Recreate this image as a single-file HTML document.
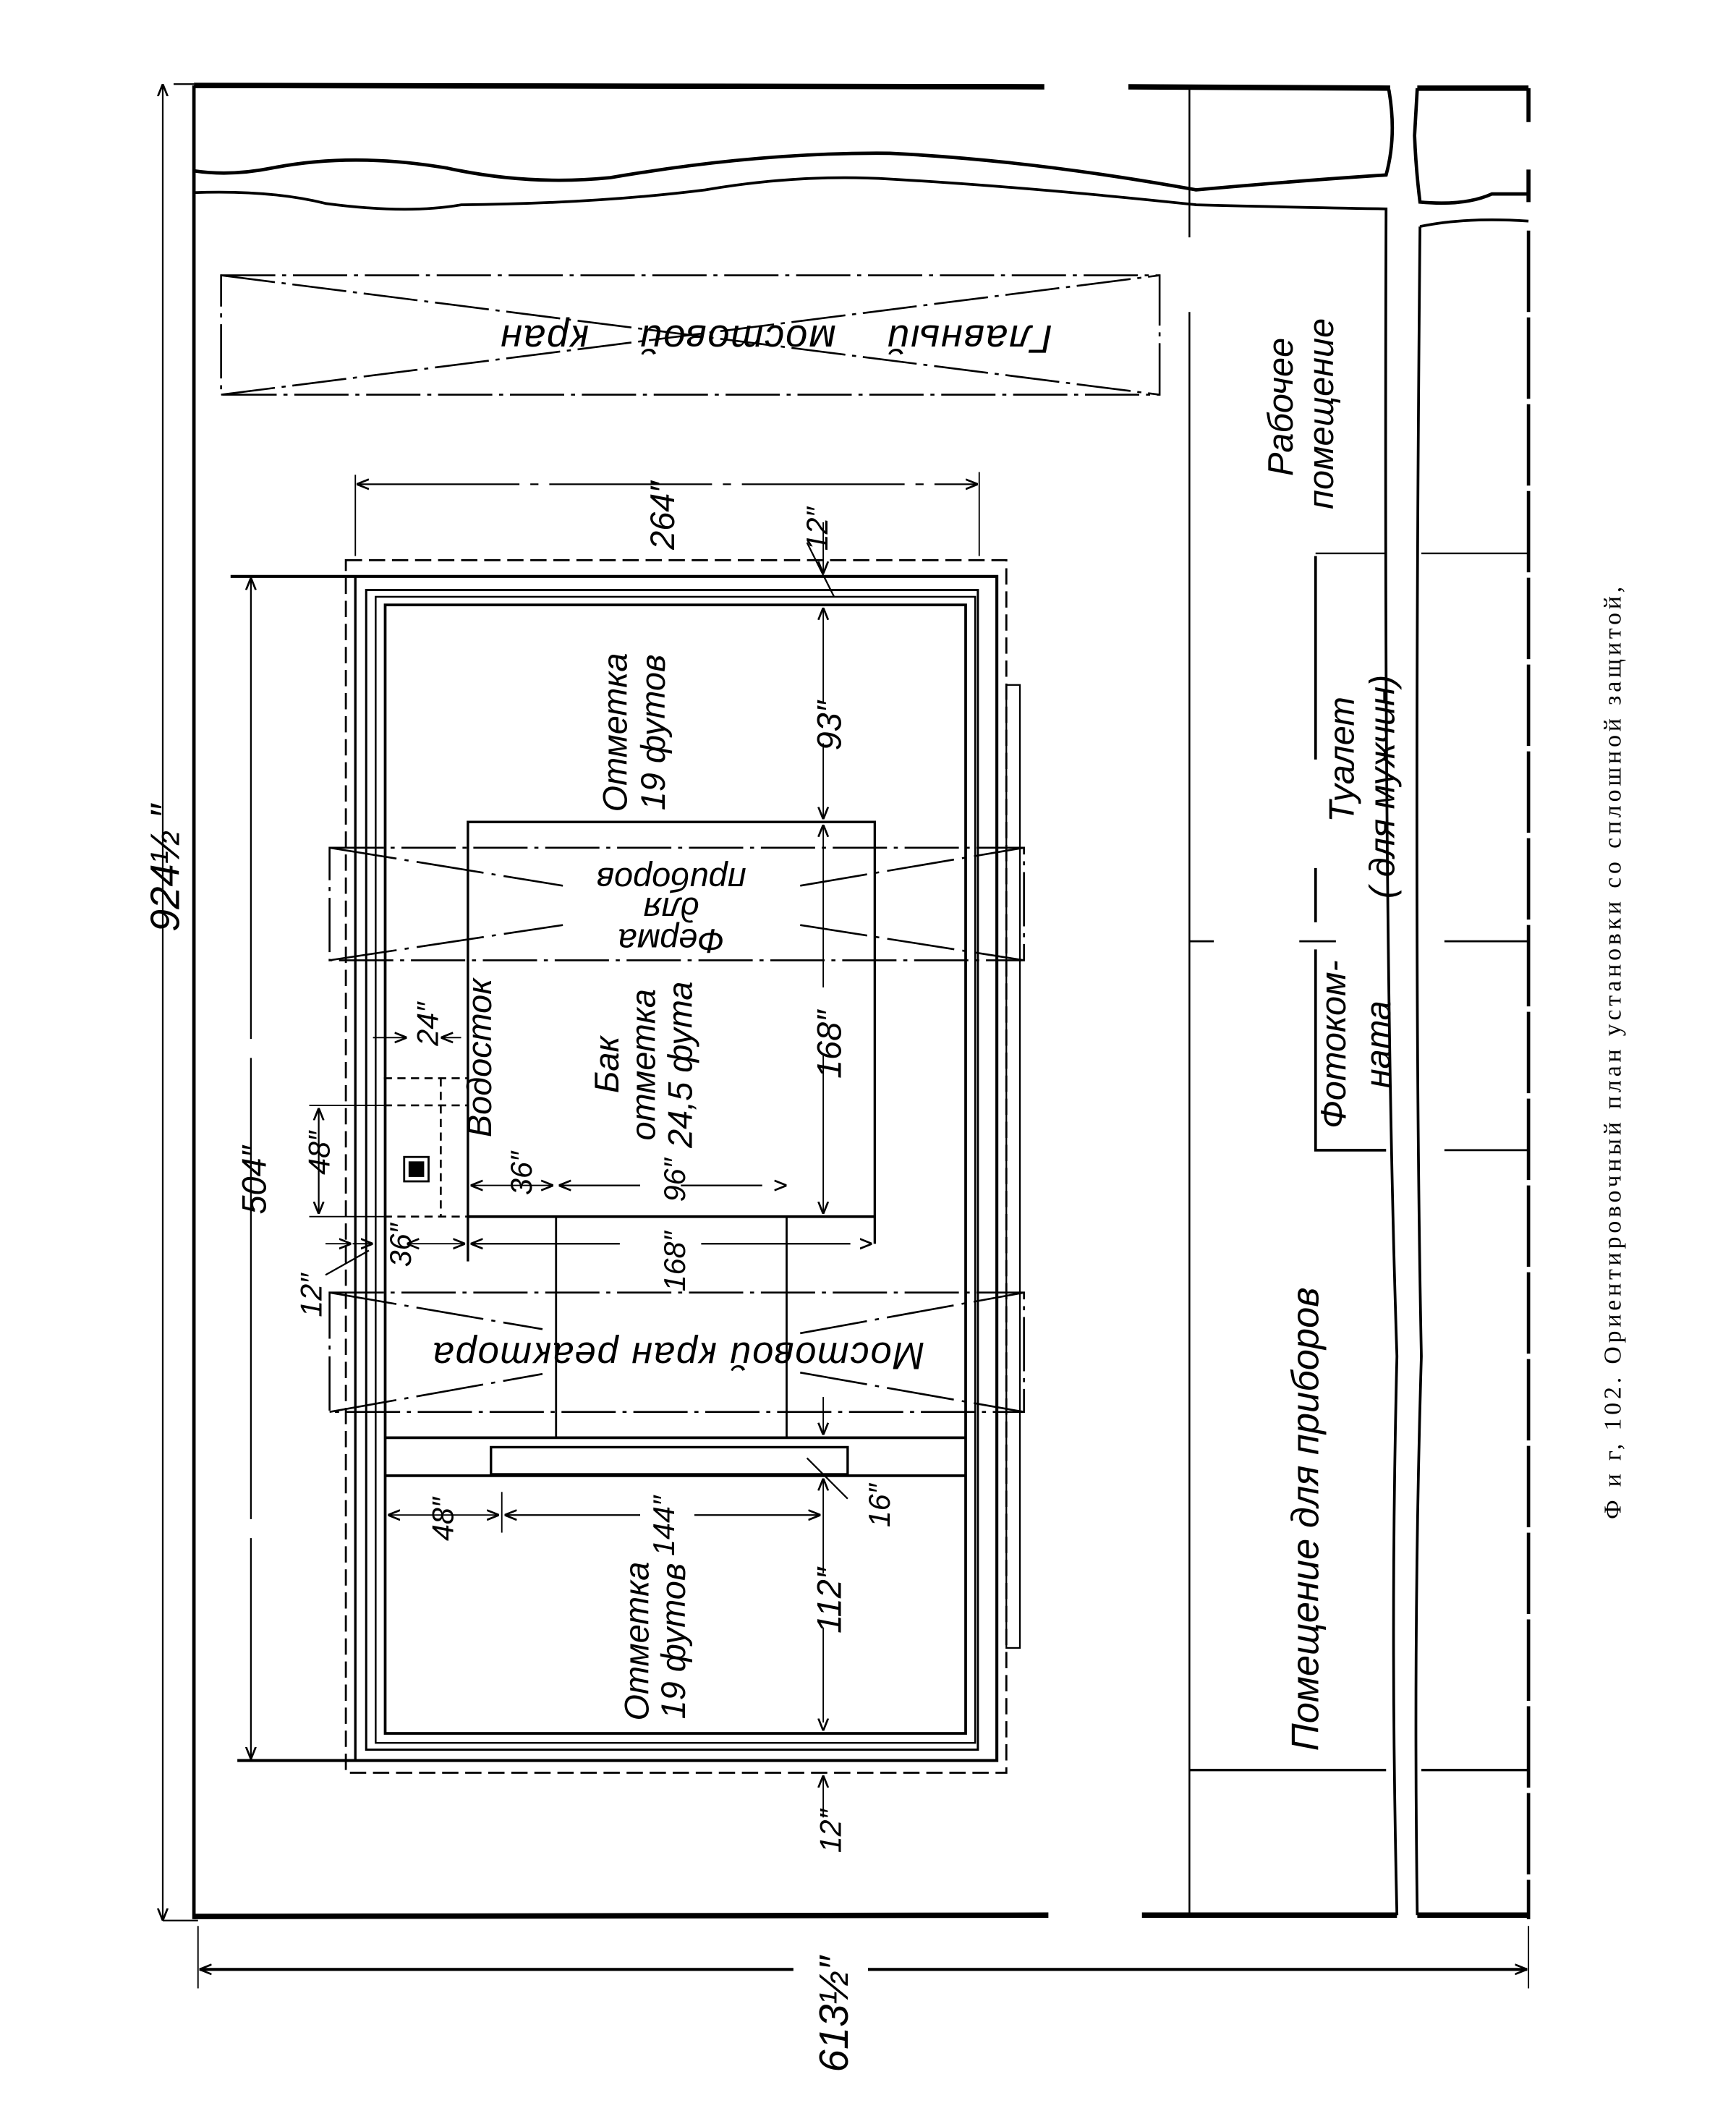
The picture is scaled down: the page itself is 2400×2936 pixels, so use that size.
<!DOCTYPE html>
<html><head><meta charset="utf-8"><style>
html,body{margin:0;padding:0;background:#fff}
svg{display:block}
text{font-family:"Liberation Sans","DejaVu Sans",sans-serif;font-style:italic;fill:#000}
</style></head><body>
<svg width="2400" height="2936" viewBox="0 0 1280 1566" preserveAspectRatio="none" xmlns="http://www.w3.org/2000/svg">
<defs>
<marker id="a" viewBox="0 0 10 10" refX="10" refY="5" markerWidth="9" markerHeight="9" orient="auto-start-reverse" markerUnits="userSpaceOnUse"><path d="M0,1 L10,5 L0,9" fill="none" stroke="#000" stroke-width="1.6"/></marker>
</defs>
<g fill="none" stroke="#000">
<path d="M143,63 L770,64 M832,64 L1025,65" stroke-width="4"/>
<path d="M1045,65 L1127,65" stroke-width="4"/>
<path d="M1127,65 L1127,90 M1127,125 L1127,149" stroke-width="3"/>
<path d="M143,63 L143,1415" stroke-width="2.5"/>
<path d="M128,62 L143,62" stroke-width="1.2"/>
<path d="M143,1413 L773,1412 M842,1412 L1030,1412 M1045,1412 L1127,1412" stroke-width="4"/>
<path d="M120,1416 L146,1416" stroke-width="1.2"/>
<path d="M1127,170 L1127,1415" stroke-width="2.5" stroke-dasharray="60,4"/>
<path d="M143,126 Q170,130 200,124 Q260,112 330,124 Q390,137 450,131 Q560,112 656,113 Q760,118 882,140 Q960,133 1022,129 Q1030,100 1024,66" stroke-width="2.5"/>
<path d="M143,142 Q200,140 240,150 Q300,158 340,151 Q440,150 520,140 Q590,128 656,132 Q760,138 882,151 Q960,153 1022,154 Q1020,700 1030,1000 Q1025,1200 1030,1412" stroke-width="2"/>
<path d="M1045,65 L1043,100 Q1044,125 1047,149 Q1080,152 1100,143 L1127,143" stroke-width="2.5"/>
<path d="M1047,167 Q1080,160 1127,163" stroke-width="2"/>
<path d="M1047,167 Q1042,700 1048,1000 Q1042,1200 1045,1412" stroke-width="2"/>
<path d="M877,65 L877,175 M877,230 L877,1412" stroke-width="1.3"/>
<path d="M877,694 L895,694 M958,694 L985,694 M1065,694 L1127,694 M1065,848 L1127,848" stroke-width="1.5"/>
<path d="M970,408 L1022,408 M1048,408 L1127,408" stroke-width="1.3"/>
<path d="M970,410 L970,560 M970,640 L970,680 M970,700 L970,848 L1022,848" stroke-width="2"/>
<path d="M877,1305 L1022,1305 M1048,1305 L1127,1305" stroke-width="1.8"/>
<line x1="120" y1="62" x2="120" y2="1416" stroke-width="1.2" marker-start="url(#a)" marker-end="url(#a)"/>
<line x1="146" y1="1420" x2="146" y2="1466" stroke-width="1"/>
<line x1="1127" y1="1420" x2="1127" y2="1466" stroke-width="1"/>
<path d="M147,1452 L585,1452 M640,1452 L1126,1452" stroke-width="2.2" marker-start="url(#a)" marker-end="url(#a)"/>
<g stroke-width="1.4" stroke-dasharray="40,5,3,5">
<rect x="163" y="203" width="692" height="88"/>
<line x1="163" y1="203" x2="855" y2="291"/>
<line x1="163" y1="291" x2="855" y2="203"/>
</g>
<path d="M262,350 L262,410 M722,348 L722,410" stroke-width="1"/>
<line x1="263" y1="357" x2="721" y2="357" stroke-width="1.2" stroke-dasharray="120,8,6,8" marker-start="url(#a)" marker-end="url(#a)"/>
<rect x="255" y="413" width="487" height="894" stroke-width="1.5" stroke-dasharray="12,5"/>
<path d="M170,425 L735,425 L735,1298 L175,1298" stroke-width="2.2"/>
<rect x="262" y="425" width="473" height="873" stroke-width="1.8"/>
<rect x="270" y="435" width="451" height="855" stroke-width="1.6"/>
<rect x="277" y="440" width="442" height="845" stroke-width="1.3"/>
<rect x="284" y="446" width="428" height="832" stroke-width="2"/>
<rect x="742" y="505" width="10" height="710" stroke-width="1.2"/>
<path d="M345,930 L345,606 L645,606 L645,917" stroke-width="1.8"/>
<line x1="345" y1="897" x2="645" y2="897" stroke-width="2"/>
<path d="M410,897 L410,1060 M580,897 L580,1060" stroke-width="1.5"/>
<g stroke-width="1.4" stroke-dasharray="40,5,3,5">
<rect x="243" y="625" width="512" height="83"/>
</g>
<g stroke-width="1.4" stroke-dasharray="50,6,3,6">
<path d="M243,625 L415,653 M590,682 L755,708 M243,708 L415,682 M590,653 L755,625"/>
</g>
<g stroke-width="1.4" stroke-dasharray="40,5,3,5">
<rect x="243" y="953" width="512" height="88"/>
</g>
<g stroke-width="1.4" stroke-dasharray="50,6,3,6">
<path d="M243,953 L400,980 M590,1012 L755,1041 M243,1041 L400,1013 M590,983 L755,953"/>
</g>
<line x1="284" y1="1060" x2="712" y2="1060" stroke-width="2"/>
<rect x="362" y="1067" width="263" height="20" stroke-width="1.8"/>
<line x1="284" y1="1088" x2="712" y2="1088" stroke-width="2"/>
<path d="M283,795 L345,795 M283,815 L345,815 M325,795 L325,897 M283,897 L345,897" stroke-width="1.4" stroke-dasharray="6,4"/>
<rect x="298" y="853" width="18" height="18" stroke-width="1.5"/>
<rect x="301" y="856" width="12" height="12" fill="#000" stroke-width="0.5" stroke="#fff"/>
<line x1="185" y1="426" x2="185" y2="1297" stroke-width="1.2" stroke-dasharray="340,14" marker-start="url(#a)" marker-end="url(#a)"/>
<path d="M228,815 L283,815 M228,897 L283,897" stroke-width="1"/>
<line x1="235" y1="817" x2="235" y2="895" stroke-width="1.2" marker-start="url(#a)" marker-end="url(#a)"/>
<line x1="275" y1="765" x2="300" y2="765" stroke-width="1" marker-end="url(#a)"/>
<line x1="340" y1="765" x2="325" y2="765" stroke-width="1" marker-end="url(#a)"/>
<line x1="275" y1="917" x2="260" y2="917" stroke-width="1" marker-start="url(#a)"/>
<line x1="240" y1="917" x2="259" y2="917" stroke-width="1" marker-end="url(#a)"/>
<line x1="300" y1="917" x2="343" y2="917" stroke-width="1" marker-start="url(#a)" marker-end="url(#a)"/>
<line x1="347" y1="917" x2="643" y2="917" stroke-width="1.2" stroke-dasharray="110,60" marker-start="url(#a)" marker-end="url(#a)"/>
<line x1="347" y1="874" x2="408" y2="874" stroke-width="1" marker-start="url(#a)" marker-end="url(#a)"/>
<line x1="412" y1="874" x2="580" y2="874" stroke-width="1.2" stroke-dasharray="60,30" marker-start="url(#a)" marker-end="url(#a)"/>
<line x1="286" y1="1117" x2="368" y2="1117" stroke-width="1" marker-start="url(#a)" marker-end="url(#a)"/>
<line x1="370" y1="1100" x2="370" y2="1130" stroke-width="1"/>
<line x1="372" y1="1117" x2="605" y2="1117" stroke-width="1.2" stroke-dasharray="100,40" marker-start="url(#a)" marker-end="url(#a)"/>
<line x1="607" y1="385" x2="607" y2="423" stroke-width="1" marker-end="url(#a)"/>
<line x1="607" y1="448" x2="607" y2="604" stroke-width="1" stroke-dasharray="70,30" marker-start="url(#a)" marker-end="url(#a)"/>
<line x1="607" y1="608" x2="607" y2="895" stroke-width="1" stroke-dasharray="120,50" marker-start="url(#a)" marker-end="url(#a)"/>
<line x1="607" y1="1030" x2="607" y2="1058" stroke-width="1" marker-end="url(#a)"/>
<line x1="607" y1="1090" x2="607" y2="1276" stroke-width="1" stroke-dasharray="70,40" marker-start="url(#a)" marker-end="url(#a)"/>
<line x1="607" y1="1340" x2="607" y2="1309" stroke-width="1" marker-end="url(#a)"/>
<path d="M595,400 L615,440 M595,1075 L625,1105 M240,940 L272,922" stroke-width="1.2"/>
</g>
<text transform="translate(1195,775) rotate(-90)" text-anchor="middle" font-size="18" style="font-style:normal;font-family:'Liberation Serif',serif;letter-spacing:2.6px">Ф и г, 102. Ориентировочный план установки со сплошной защитой,</text>
<g font-size="25">
<text transform="translate(132,640) rotate(-90)" text-anchor="middle" font-size="30">924½ ″</text>
<text transform="translate(625,1485) rotate(-90)" text-anchor="middle" font-size="30">613½″</text>
<text transform="translate(497,380) rotate(-90)" text-anchor="middle">264″</text>
<text transform="translate(610,390) rotate(-90)" text-anchor="middle" font-size="22">12″</text>
<text transform="translate(196,870) rotate(-90)" text-anchor="middle">504″</text>
<text transform="translate(953,300) rotate(-90)" text-anchor="middle" font-size="26">Рабочее</text>
<text transform="translate(983,305) rotate(-90)" text-anchor="middle" font-size="26">помещение</text>
<text transform="translate(998,560) rotate(-90)" text-anchor="middle" font-size="26">Туалет</text>
<text transform="translate(1028,580) rotate(-90)" text-anchor="middle" font-size="26">( для мужчин)</text>
<text transform="translate(992,770) rotate(-90)" text-anchor="middle" font-size="26">Фотоком-</text>
<text transform="translate(1025,770) rotate(-90)" text-anchor="middle" font-size="26">ната</text>
<text transform="translate(972,1120) rotate(-90)" text-anchor="middle" font-size="28">Помещение для приборов</text>
<text transform="translate(462,540) rotate(-90)" text-anchor="middle">Отметка</text>
<text transform="translate(490,540) rotate(-90)" text-anchor="middle">19 футов</text>
<text transform="translate(620,535) rotate(-90)" text-anchor="middle">93″</text>
<text transform="translate(456,785) rotate(-90)" text-anchor="middle">Бак</text>
<text transform="translate(483,785) rotate(-90)" text-anchor="middle">отметка</text>
<text transform="translate(510,785) rotate(-90)" text-anchor="middle">24,5 фута</text>
<text transform="translate(620,770) rotate(-90)" text-anchor="middle">168″</text>
<text transform="translate(362,780) rotate(-90)" text-anchor="middle">Водосток</text>
<text transform="translate(323,755) rotate(-90)" text-anchor="middle" font-size="22">24″</text>
<text transform="translate(243,850) rotate(-90)" text-anchor="middle" font-size="22">48″</text>
<text transform="translate(392,865) rotate(-90)" text-anchor="middle" font-size="22">36″</text>
<text transform="translate(505,870) rotate(-90)" text-anchor="middle" font-size="22">96″</text>
<text transform="translate(303,918) rotate(-90)" text-anchor="middle" font-size="22">36″</text>
<text transform="translate(505,930) rotate(-90)" text-anchor="middle" font-size="22">168″</text>
<text transform="translate(237,955) rotate(-90)" text-anchor="middle" font-size="22">12″</text>
<text transform="translate(334,1120) rotate(-90)" text-anchor="middle" font-size="22">48″</text>
<text transform="translate(497,1125) rotate(-90)" text-anchor="middle" font-size="22">144″</text>
<text transform="translate(656,1110) rotate(-90)" text-anchor="middle" font-size="22">16″</text>
<text transform="translate(620,1180) rotate(-90)" text-anchor="middle">112″</text>
<text transform="translate(478,1210) rotate(-90)" text-anchor="middle">Отметка</text>
<text transform="translate(505,1210) rotate(-90)" text-anchor="middle">19 футов</text>
<text transform="translate(620,1350) rotate(-90)" text-anchor="middle" font-size="22">12″</text>
</g>
<g font-size="28">
<text transform="translate(572,240) rotate(180)" text-anchor="middle" font-size="29" style="word-spacing:28px;letter-spacing:1px">Главный мостовой кран</text>
<text transform="translate(495,640) rotate(180)" text-anchor="middle" font-size="25">приборов</text>
<text transform="translate(495,662) rotate(180)" text-anchor="middle" font-size="25">для</text>
<text transform="translate(495,685) rotate(180)" text-anchor="middle" font-size="25">Ферма</text>
<text transform="translate(500,990) rotate(180)" text-anchor="middle" style="letter-spacing:1px">Мостовой кран реактора</text>
</g>
</svg>
</body></html>
